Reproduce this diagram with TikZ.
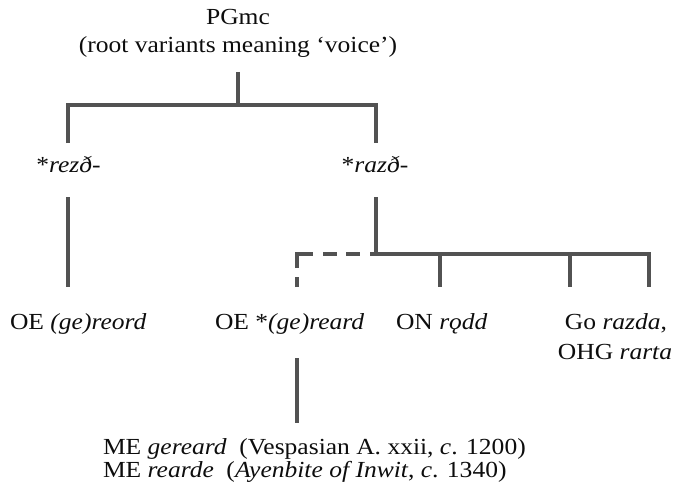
\documentclass[tikz,border=0pt]{standalone}
\usepackage{fontspec}
\setmainfont{Liberation Serif}[FakeStretch=1.11]
\begin{document}
\begin{tikzpicture}[x=1pt,y=-1pt,
  lbl/.style={inner sep=0pt,outer sep=0pt,font=\fontsize{23}{24}\selectfont,text=black!95},
  branch/.style={draw=black!68,line width=3.1pt,line join=miter,line cap=butt},
  dashbranch/.style={branch,dash pattern=on 10pt off 9pt on 30pt off 10pt on 14pt off 9pt on 14pt off 10pt on 40pt}]
\useasboundingbox (0,0) rectangle (676,500);
% texts
\node[lbl,anchor=base] (pgmc) at (238,25) {PGmc};
\node[lbl,anchor=base] (gloss) at (238,53) {(root variants meaning ‘voice’)};
\node[lbl,anchor=base] (rez) at (68.5,172) {*\textit{rezð-}};
\node[lbl,anchor=base] (raz) at (375,172) {*\textit{razð-}};
\node[lbl,anchor=base west] (oe1) at (10,329) {OE \textit{(ge)reord}};
\node[lbl,anchor=base west] (oe2) at (215,329) {OE *\textit{(ge)reard}};
\node[lbl,anchor=base west] (on) at (396,329) {ON \textit{rǫdd}};
\node[lbl,anchor=base] (go) at (616,329) {Go \textit{razda},};
\node[lbl,anchor=base] (ohg) at (615,359) {OHG \textit{rarta}};
\node[lbl,anchor=base west] (me1) at (103,454) {ME \textit{gereard}\hspace{0.55em}(Vespasian A. xxii, \textit{c}. 1200)};
\node[lbl,anchor=base west] (me2) at (103,477) {ME \textit{rearde}\hspace{0.55em}(\textit{Ayenbite of Inwit}, \textit{c}. 1340)};
% junction coordinates
\coordinate (topA) at (238,72);
\coordinate (topB) at (238,105);
\coordinate (lTop) at (68,105);
\coordinate (rTop) at (376,105);
\coordinate (lEnd) at (68,143);
\coordinate (rEnd) at (376,143);
\coordinate (rezA) at (68,197);
\coordinate (rezB) at (68,287);
\coordinate (razA) at (376,197);
\coordinate (razB) at (376,254);
\coordinate (onA) at (440,254);
\coordinate (onB) at (440,287);
\coordinate (goA) at (570,254);
\coordinate (goB) at (570,287);
\coordinate (ohgA) at (649,254);
\coordinate (ohgB) at (649,287);
\coordinate (dashC) at (297,254);
\coordinate (dashB) at (297,287);
\coordinate (meA) at (297,358);
\coordinate (meB) at (297,423);
% connectors
\draw[branch] (topA) -- (topB);
\draw[branch] (lEnd) -- (lTop) -- (rTop) -- (rEnd);
\draw[branch] (rezA) -- (rezB);
\draw[branch] (razA) -- (razB) -- (ohgA) -- (ohgB);
\draw[branch] (onA) -- (onB);
\draw[branch] (goA) -- (goB);
\draw[dashbranch] (dashB) -- (dashC) -- (razB);
\draw[branch] (meA) -- (meB);
\end{tikzpicture}
\end{document}
